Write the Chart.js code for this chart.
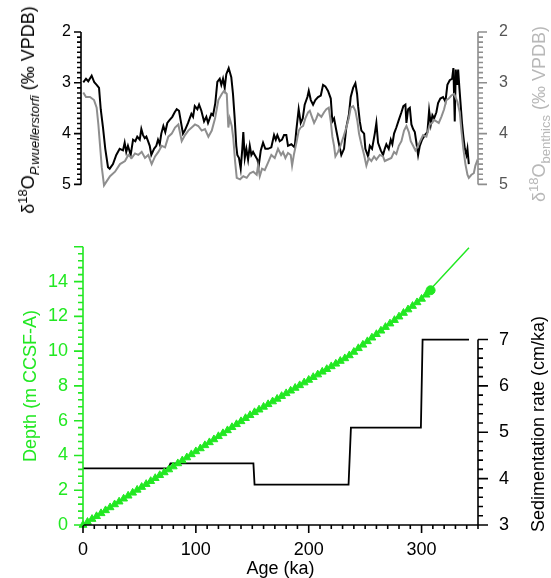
<!DOCTYPE html>
<html>
<head>
<meta charset="utf-8">
<script src="https://cdn.jsdelivr.net/npm/chart.js@4.4.1/dist/chart.umd.min.js"></script>
<style>
  body { margin: 0; background: #fff; }
  #wrap { position: relative; width: 551px; height: 578px; overflow: hidden; font-family: "Liberation Sans", Arial, sans-serif; }
  canvas { position: absolute; left: 0; }
  .ytitle { position: absolute; white-space: nowrap; transform: translate(-50%, -50%) rotate(-90deg); font-size: 18px; line-height: 1; }
  .ytitle sup, .ytitle sub { font-size: 13px; line-height: 0; }
</style>
</head>
<body>
<div id="wrap">
  <canvas id="isoChart" width="551" height="215" style="top:0"></canvas>
  <canvas id="ageChart" width="551" height="363" style="top:215px"></canvas>
  <div class="ytitle" style="left:28px; top:110px; color:#000">&delta;<sup>18</sup>O<sub><i>P.wuellerstorfi</i></sub> (&permil; VPDB)</div>
  <div class="ytitle" style="left:539px; top:114px; color:#b8b8b8">&delta;<sup>18</sup>O<sub>benthics</sub> (&permil; VPDB)</div>
  <div class="ytitle" style="left:538px; top:424px; color:#000">Sedimentation rate (cm/ka)</div>
</div>
<script>
// top panel: d18O records
const wuellAge = [2.0,4.4,6.4,9.4,11.7,13.8,15.9,17.4,19.4,21.4,23.8,25.3,28.2,31.1,34.1,37.0,38.5,39.9,41.4,43.8,
  45.9,47.9,49.6,51.8,53.2,54.7,56.2,57.6,59.1,60.6,62.0,64.4,66.4,67.9,69.4,70.8,72.6,74.3,76.1,78.2,
  80.5,82.6,84.4,86.4,89.9,91.5,94.4,97.3,98.8,100.3,102.6,104.1,106.1,108.5,110.5,112.0,113.5,114.9,116.4,118.4,
  120.2,122.3,123.7,125.2,126.7,128.1,130.2,132.5,134.0,135.5,136.9,137.8,139.3,140.8,142.2,143.1,144.4,145.8,147.3,148.8,
  150.2,151.7,153.2,155.5,156.7,158.5,160.5,162.5,164.9,167.8,170.2,171.7,173.1,175.2,177.2,179.0,181.0,182.5,185.4,188.4,
  189.8,191.9,193.7,195.5,197.2,199.6,200.8,202.6,204.6,206.6,209.0,211.4,213.4,215.4,217.8,220.2,221.6,223.1,225.1,227.2,
  229.5,231.9,233.9,236.1,237.8,239.9,241.9,243.4,244.3,245.8,247.2,249.6,250.7,253.1,254.6,256.6,259.0,260.4,261.9,264.3,
  266.3,267.8,269.2,271.3,273.1,274.5,276.0,278.0,280.2,282.5,284.2,286.0,286.9,288.4,289.9,291.3,292.8,294.3,295.7,297.2,
  298.7,300.7,303.1,305.4,306.9,308.4,309.8,311.3,313.3,314.8,316.8,319.2,321.3,323.0,325.1,327.2,328.3,329.5,330.4,331.6,
  332.5,333.6,334.8,336.0,337.1,338.4,339.8,340.7,341.9];
const wuellD18O = [2.99,2.92,2.97,2.86,2.99,3.04,3.10,3.52,3.88,4.30,4.66,4.69,4.60,4.42,4.30,4.33,4.18,4.36,4.24,4.42,
  4.12,4.15,4.06,4.12,3.91,4.03,4.09,4.06,4.15,4.24,4.42,4.30,4.24,4.12,4.21,4.00,3.85,3.97,3.79,3.73,
  3.67,3.58,3.52,3.55,4.00,3.94,3.79,3.61,3.67,3.46,3.52,3.43,3.55,3.76,3.67,3.79,3.70,3.61,3.64,3.40,
  2.98,2.92,3.04,2.92,3.10,2.83,2.71,2.89,3.22,3.70,4.24,4.42,4.48,4.69,4.30,3.97,4.48,4.30,4.51,4.24,
  4.42,4.36,4.42,4.51,4.63,4.33,4.18,4.30,4.30,4.27,4.03,4.12,4.03,4.15,4.12,4.03,4.03,4.24,4.21,4.27,
  3.94,3.52,3.79,3.70,3.43,3.28,3.16,3.34,3.43,3.34,3.28,3.25,3.04,3.07,3.16,3.31,3.76,3.70,3.94,4.18,
  4.42,4.30,3.88,3.64,3.28,3.10,3.01,3.22,3.46,3.76,3.94,4.00,4.30,4.45,4.24,4.30,4.00,3.79,4.18,4.33,
  4.42,4.30,4.21,4.30,4.12,4.21,4.00,3.88,3.73,3.58,3.46,3.43,3.79,3.52,3.49,3.82,3.91,3.97,4.18,4.42,
  4.24,4.12,4.03,3.97,3.55,3.82,3.64,3.70,3.58,3.40,3.31,3.28,3.37,3.04,2.95,2.92,2.71,3.76,2.74,3.04,
  2.74,3.10,3.46,3.82,4.06,4.30,4.42,4.30,4.60];
const benthAge = [2.0,4.4,7.9,11.5,13.8,15.3,16.8,18.3,20.3,22.0,25.6,30.0,34.4,38.8,41.7,44.7,47.6,50.5,53.5,56.4,
  59.3,62.3,65.3,68.2,71.2,74.1,77.0,80.0,82.9,85.8,88.8,91.7,94.6,97.6,100.5,103.4,106.4,109.3,112.3,115.3,
  118.2,121.1,124.1,126.1,128.5,129.9,131.1,132.9,134.3,135.8,137.3,140.2,143.1,146.1,149.0,151.9,154.9,156.1,157.6,159.6,
  162.0,164.9,167.8,170.8,173.7,176.4,178.1,180.2,182.5,184.9,186.1,187.8,189.9,192.0,193.7,195.8,197.8,200.2,201.7,203.1,
  205.5,207.5,209.0,211.9,214.3,216.3,218.4,220.2,221.6,223.1,224.3,226.6,228.7,231.0,233.9,236.1,237.8,239.9,241.9,243.7,
  245.1,247.2,249.6,251.6,253.7,256.0,258.4,260.4,263.4,266.3,267.8,270.7,273.6,276.0,278.0,280.2,282.5,284.8,286.9,289.0,
  290.7,292.8,294.8,297.2,299.6,301.6,304.5,307.5,309.5,311.3,313.3,315.4,317.7,320.1,322.1,324.2,326.5,328.9,330.1,331.8,
  333.9,335.4,337.1,338.9,340.7,341.9,344.2,346.3,347.7,349.2,350.0];
const benthD18O = [3.19,3.28,3.28,3.34,3.49,3.82,4.24,4.66,5.02,4.96,4.84,4.75,4.60,4.54,4.42,4.48,4.39,4.42,4.36,4.48,
  4.42,4.60,4.45,4.36,4.24,4.27,4.06,4.00,3.88,3.82,4.15,4.03,3.94,3.88,3.82,3.85,3.94,3.91,4.06,3.94,
  3.70,3.34,3.22,3.16,3.22,3.88,3.70,3.85,4.10,4.54,4.87,4.90,4.84,4.87,4.78,4.75,4.81,4.63,4.84,4.69,
  4.72,4.57,4.42,4.48,4.30,4.42,4.36,4.48,4.38,4.42,4.63,4.40,4.18,3.94,3.88,3.85,3.70,3.58,3.55,3.64,
  3.79,3.70,3.61,3.67,3.58,3.52,3.49,3.76,4.06,4.24,4.45,4.36,4.24,4.09,3.88,3.70,3.49,3.46,3.55,3.76,
  4.00,4.21,4.42,4.63,4.48,4.54,4.45,4.51,4.42,4.45,4.54,4.51,4.48,4.36,4.40,4.24,4.15,3.94,3.85,3.97,
  4.15,4.24,4.33,4.24,4.12,4.03,4.06,3.82,3.79,3.73,3.76,3.79,3.67,3.52,3.34,3.31,3.25,3.22,3.28,3.37,
  3.58,3.94,4.30,4.60,4.81,4.87,4.81,4.78,4.63,4.54,4.57];
const d18OTicks = [2, 3, 4, 5];

// bottom panel: age model
const modelAge = [0, 75.5, 151.5, 236, 300, 342];
const modelDepth = [0, 3.17, 6.46, 9.74, 13.0, 15.95];
const tieAge = [0,4,8,12,16,20,24,28,32,36,40,44,48,52,56,60,64,68,72,76,
  80,84,88,92,96,100,104,108,112,116,120,124,128,132,136,140,144,148,152,156,
  160,164,168,172,176,180,184,188,192,196,200,204,208,212,216,220,224,228,232,236,
  240,244,248,252,256,260,264,268,272,276,280,284,288,292,296,300,304];
const tieDepth = [0,0.17,0.34,0.50,0.67,0.84,1.01,1.18,1.34,1.51,1.68,1.85,2.02,2.18,2.35,2.52,2.69,2.86,3.02,3.19,
  3.36,3.54,3.71,3.88,4.06,4.23,4.40,4.58,4.75,4.92,5.10,5.27,5.44,5.62,5.79,5.96,6.14,6.31,6.48,6.63,
  6.79,6.94,7.10,7.25,7.41,7.57,7.72,7.88,8.03,8.19,8.34,8.50,8.65,8.81,8.96,9.12,9.27,9.43,9.58,9.75,
  9.95,10.16,10.36,10.56,10.77,10.97,11.17,11.38,11.58,11.78,11.98,12.19,12.39,12.59,12.80,13.00,13.24];
const lastTieAge = [308];
const lastTieDepth = [13.5];
const rateAge = [0, 75.5, 77.5, 151, 152, 235.3, 237.4, 299.4, 300.9, 342];
const rate = [4.22, 4.22, 4.33, 4.33, 3.87, 3.87, 5.1, 5.1, 7.0, 7.0];
const ageTicks = [0, 100, 200, 300];
const depthTicks = [0, 2, 4, 6, 8, 10, 12, 14];
const rateTicks = [3, 4, 5, 6, 7];

const GREEN = '#22e822';
const FONT = '"Liberation Sans", Arial, sans-serif';
Chart.defaults.font.family = FONT;
Chart.defaults.animation = false;

function xy(xs, ys) {
    return xs.map((x, i) => ({ x: x, y: ys[i] }));
}

// axis lines with major/minor tick marks
function axisMarks(axes) {
    return {
        id: 'axisMarks',
        afterDraw(chart) {
            const ctx = chart.ctx;
            const ca = chart.chartArea;
            axes.forEach(a => {
                const s = chart.scales[a.scale];
                const horiz = a.edge === 'bottom';
                const base = a.edge === 'left' ? ca.left : a.edge === 'right' ? ca.right : ca.bottom;
                const dir = a.edge === 'left' ? -1 : 1;
                ctx.save();
                ctx.strokeStyle = a.color;
                ctx.lineWidth = 1.6;
                ctx.beginPath();
                const p0 = s.getPixelForValue(a.from), p1 = s.getPixelForValue(a.to);
                if (horiz) { ctx.moveTo(p0, base); ctx.lineTo(p1, base); }
                else { ctx.moveTo(base, p0); ctx.lineTo(base, p1); }
                const n = Math.round((a.to - a.from) / a.minor);
                const every = Math.round(a.major / a.minor);
                for (let i = 0; i <= n; i++) {
                    const p = s.getPixelForValue(a.from + i * a.minor);
                    const len = (i % every === 0 ? a.majorLen : a.minorLen) * dir;
                    if (horiz) { ctx.moveTo(p, base); ctx.lineTo(p, base + len); }
                    else { ctx.moveTo(base, p); ctx.lineTo(base + len, p); }
                }
                ctx.stroke();
                ctx.restore();
            });
        }
    };
}

function fixedTicks(list) {
    return scale => { scale.ticks = list.map(v => ({ value: v })); };
}

new Chart(document.getElementById('isoChart'), {
    type: 'scatter',
    data: {
        datasets: [{
            data: xy(benthAge, benthD18O),
            yAxisID: 'y',
            showLine: true,
            borderColor: '#8e8e8e',
            borderWidth: 2,
            pointRadius: 0,
            clip: false
        }, {
            data: xy(wuellAge, wuellD18O),
            yAxisID: 'y',
            showLine: true,
            borderColor: '#000',
            borderWidth: 2,
            pointRadius: 0,
            clip: false
        }]
    },
    options: {
        responsive: false,
        layout: { padding: { top: 32, bottom: 16, left: 0, right: 0 } },
        plugins: { legend: { display: false }, tooltip: { enabled: false } },
        scales: {
            x: { type: 'linear', min: 0, max: 350, display: false },
            y: {
                position: 'left', reverse: true, min: 2, max: 5,
                afterFit: s => { s.width = 81; },
                afterBuildTicks: fixedTicks(d18OTicks),
                grid: { display: false, drawTicks: false },
                border: { display: false },
                ticks: { color: '#000', padding: 10, font: { size: 16 } }
            },
            y2: {
                position: 'right', reverse: true, min: 2, max: 5,
                afterFit: s => { s.width = 73; },
                afterBuildTicks: fixedTicks(d18OTicks),
                grid: { display: false, drawTicks: false },
                border: { display: false },
                ticks: { color: '#555', padding: 21, font: { size: 16 } }
            }
        }
    },
    plugins: [axisMarks([
        { scale: 'y', edge: 'left', from: 2, to: 5, minor: 0.1, major: 1, majorLen: 7, minorLen: 4, color: '#000' },
        { scale: 'y2', edge: 'right', from: 2, to: 5, minor: 0.1, major: 1, majorLen: 9, minorLen: 5, color: '#8e8e8e' }
    ])]
});

new Chart(document.getElementById('ageChart'), {
    type: 'scatter',
    data: {
        datasets: [{
            data: xy(modelAge, modelDepth),
            yAxisID: 'y',
            showLine: true,
            borderColor: GREEN,
            borderWidth: 1.5,
            pointRadius: 0,
            clip: false
        }, {
            data: xy(tieAge, tieDepth),
            yAxisID: 'y',
            pointStyle: 'triangle',
            pointRadius: 4.5,
            backgroundColor: GREEN,
            borderColor: GREEN,
            borderWidth: 1,
            clip: false
        }, {
            data: xy(lastTieAge, lastTieDepth),
            yAxisID: 'y',
            pointStyle: 'circle',
            pointRadius: 4.5,
            backgroundColor: GREEN,
            borderColor: GREEN,
            clip: false
        }, {
            data: xy(rateAge, rate),
            yAxisID: 'y2',
            showLine: true,
            borderColor: '#000',
            borderWidth: 1.8,
            pointRadius: 0,
            clip: false
        }]
    },
    options: {
        responsive: false,
        layout: { padding: { top: 15, bottom: 0, left: 0, right: 0 } },
        plugins: { legend: { display: false }, tooltip: { enabled: false } },
        scales: {
            x: {
                type: 'linear', min: 0, max: 350,
                afterFit: s => { s.height = 53; },
                afterBuildTicks: fixedTicks(ageTicks),
                grid: { display: false, drawTicks: false },
                border: { display: false },
                ticks: { color: '#000', padding: 14, font: { size: 18 } },
                title: { display: true, text: 'Age (ka)', color: '#000', font: { size: 18 }, padding: { top: 0, bottom: -2 } }
            },
            y: {
                position: 'left', min: 0, max: 16,
                afterFit: s => { s.width = 83; },
                afterBuildTicks: fixedTicks(depthTicks),
                grid: { display: false, drawTicks: false },
                border: { display: false },
                ticks: { color: GREEN, padding: 15, font: { size: 18 } },
                title: { display: true, text: 'Depth (m CCSF-A)', color: GREEN, font: { size: 18 }, padding: { top: 20, bottom: 0 } }
            },
            y2: {
                position: 'right', min: 3, max: 9,
                afterFit: s => { s.width = 73; },
                afterBuildTicks: fixedTicks(rateTicks),
                grid: { display: false, drawTicks: false },
                border: { display: false },
                ticks: { color: '#000', padding: 21, font: { size: 18 } }
            }
        }
    },
    plugins: [axisMarks([
        { scale: 'x', edge: 'bottom', from: 0, to: 350, minor: 10, major: 100, majorLen: 8, minorLen: 4, color: '#000' },
        { scale: 'y', edge: 'left', from: 0, to: 16, minor: 0.4, major: 2, majorLen: 9, minorLen: 5, color: GREEN },
        { scale: 'y2', edge: 'right', from: 3, to: 7, minor: 0.2, major: 1, majorLen: 10, minorLen: 5, color: '#000' }
    ])]
});
</script>
</body>
</html>
